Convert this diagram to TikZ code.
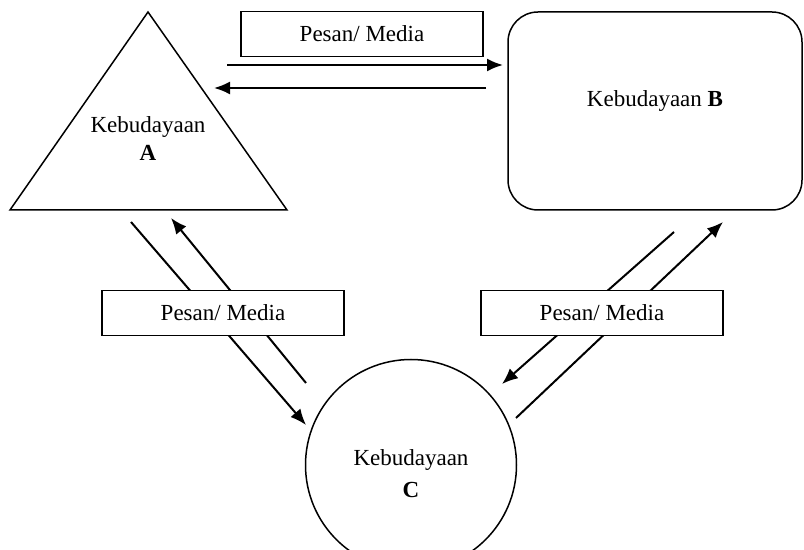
\documentclass[tikz,border=0pt]{standalone}
\usepackage{fontspec}
\setmainfont{Liberation Serif}
\usetikzlibrary{arrows.meta}

\tikzset{
  shapeline/.style={line width=0.75pt},
  msgbox/.style={draw,fill=white,line width=0.75pt,minimum width=121pt,minimum height=22.5pt,inner sep=0pt},
  flow/.style={line width=1pt,-{Latex[length=8pt,width=6.5pt]}},
  labeltext/.style={align=center,inner sep=0pt,font=\fontsize{11.5}{14}\selectfont}
}
\providecommand{\Pesan}[2]{
\node[msgbox,labeltext] (#1) at (#2) {Pesan/ Media};
}

\begin{document}
\begin{tikzpicture}[x=0.5pt,y=-0.5pt]
\useasboundingbox (0,0) rectangle (804,550);

% Kebudayaan A
\draw[shapeline] (148,12) -- (287,210) -- (10,210) -- cycle;
\node[labeltext] (A) at (148,139) {Kebudayaan\\[0pt]\textbf{A}};

% Kebudayaan B
\node[draw,shapeline,rounded corners=15pt,minimum width=147pt,minimum height=99pt] (B) at (655,111) {};
\node[labeltext] (textB) at (B.center) [yshift=5pt] {Kebudayaan \textbf{B}};

% Kebudayaan C
\node[draw,shapeline,circle,minimum size=105.5pt,inner sep=0pt] (C) at (411,465) {};
\node[labeltext] (textC) at (411,474) {Kebudayaan\\[2pt]\textbf{C}};

% A -- B
\coordinate (ab1) at (227,65); \coordinate (ab2) at (503,65);
\coordinate (ba1) at (486,88); \coordinate (ba2) at (214,88);
\draw[flow] (ab1) -- (ab2);
\draw[flow] (ba1) -- (ba2);

% A -- C
\coordinate (ac1) at (131,222); \coordinate (ac2) at (306,425);
\coordinate (ca1) at (306,383); \coordinate (ca2) at (171,218);
\draw[flow] (ac1) -- (ac2);
\draw[flow] (ca1) -- (ca2);

% B -- C
\coordinate (bc1) at (674,232); \coordinate (bc2) at (502,384);
\coordinate (cb1) at (516,418); \coordinate (cb2) at (723,222);
\draw[flow] (bc1) -- (bc2);
\draw[flow] (cb1) -- (cb2);

% Pesan/ Media
\Pesan{pAB}{362,34}
\Pesan{pAC}{223,313}
\Pesan{pBC}{602,313}
\end{tikzpicture}
\end{document}
